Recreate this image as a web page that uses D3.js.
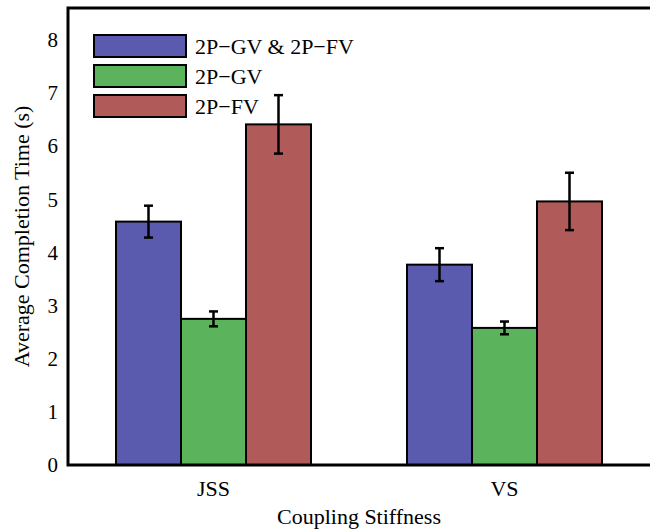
<!doctype html>
<head>
    <title>Average Completion Time</title>
    <style>
        body { margin: 0; background: #fff; }
        svg text { font-family: "Liberation Serif", "Times New Roman", Tinos, "DejaVu Serif", "Noto Serif", Times, serif !important; fill: #000; }
    </style>
</head>
<body>
    <div id="chart"></div>

    <script src="https://d3js.org/d3.v7.min.js"></script>
    <script>
        // data
        var groups = ["JSS", "VS"];
        var seriesNames = ["2P\u2212GV & 2P\u2212FV", "2P\u2212GV", "2P\u2212FV"];
        var means = [[4.58, 2.75, 6.41], [3.77, 2.58, 4.96]];
        var errs = [[0.3, 0.14, 0.55], [0.31, 0.12, 0.54]];
        var yTicks = [0, 1, 2, 3, 4, 5, 6, 7, 8];
        var colors = ["#5a5aaf", "#5bb35b", "#b05a5a"];

        var W = 650, H = 529;
        var margin = {top: 8, right: 0, bottom: 64, left: 68};

        var svg = d3.select("#chart").append("svg")
            .attr("width", W)
            .attr("height", H);

        var x0 = d3.scaleBand()
            .domain(groups)
            .range([margin.left, W - margin.right])
            .padding(0);
        var x1 = d3.scaleBand()
            .domain(d3.range(seriesNames.length))
            .range([0, 195]);
        var y = d3.scaleLinear()
            .domain([0, 8.6])
            .range([H - margin.bottom, margin.top]);

        var flat = [];
        groups.forEach(function(g, gi) {
            seriesNames.forEach(function(s, si) {
                flat.push({g: g, si: si, v: means[gi][si], e: errs[gi][si]});
            });
        });

        function barX(d) {
            return x0(d.g) + (x0.bandwidth() - 195) / 2 + x1(d.si);
        }

        // bars
        svg.append("g").selectAll("rect")
            .data(flat)
            .enter().append("rect")
            .attr("x", barX)
            .attr("y", function(d) { return y(d.v); })
            .attr("width", x1.bandwidth())
            .attr("height", function(d) { return y(0) - y(d.v); })
            .attr("fill", function(d) { return colors[d.si]; })
            .attr("stroke", "#000")
            .attr("stroke-width", 2);

        // error bars
        var eb = svg.append("g").attr("stroke", "#000").attr("stroke-width", 2.5);
        flat.forEach(function(d) {
            var cx = barX(d) + x1.bandwidth() / 2;
            eb.append("line").attr("x1", cx).attr("x2", cx)
                .attr("y1", y(d.v + d.e)).attr("y2", y(d.v - d.e));
            eb.append("line").attr("x1", cx - 4.5).attr("x2", cx + 4.5)
                .attr("y1", y(d.v + d.e)).attr("y2", y(d.v + d.e));
            eb.append("line").attr("x1", cx - 4.5).attr("x2", cx + 4.5)
                .attr("y1", y(d.v - d.e)).attr("y2", y(d.v - d.e));
        });

        // frame lines (left, top, bottom)
        svg.append("path")
            .attr("d", "M" + W + "," + y(0) + "H" + margin.left + "V" + margin.top + "H" + W)
            .attr("fill", "none")
            .attr("stroke", "#000")
            .attr("stroke-width", 3);

        // y axis labels
        var yAxis = d3.axisLeft(y).tickValues(yTicks).tickSize(0).tickPadding(10);
        var ya = svg.append("g")
            .attr("transform", "translate(" + margin.left + ",0)")
            .call(yAxis);
        ya.select(".domain").remove();
        ya.selectAll("text").style("font-size", "21px");

        // x axis labels
        var xAxis = d3.axisBottom(x0).tickSize(0).tickPadding(15);
        var xa = svg.append("g")
            .attr("transform", "translate(0," + y(0) + ")")
            .call(xAxis);
        xa.select(".domain").remove();
        xa.selectAll("text").style("font-size", "22px");

        // axis titles
        svg.append("text")
            .attr("x", (margin.left + W) / 2)
            .attr("y", 524)
            .attr("text-anchor", "middle")
            .style("font-size", "22px")
            .text("Coupling Stiffness");

        svg.append("text")
            .attr("transform", "translate(29," + ((margin.top + y(0)) / 2) + ") rotate(-90)")
            .attr("text-anchor", "middle")
            .style("font-size", "22px")
            .text("Average Completion Time (s)");

        // legend
        var legend = svg.append("g");
        seriesNames.forEach(function(s, i) {
            var ly = 35 + i * 30;
            legend.append("rect")
                .attr("x", 94).attr("y", ly)
                .attr("width", 92).attr("height", 22)
                .attr("fill", colors[i])
                .attr("stroke", "#000")
                .attr("stroke-width", 2);
            legend.append("text")
                .attr("x", 195).attr("y", ly + 11)
                .attr("dy", "0.35em")
                .style("font-size", "22px")
                .text(s);
        });
    </script>
</body>
</html>
